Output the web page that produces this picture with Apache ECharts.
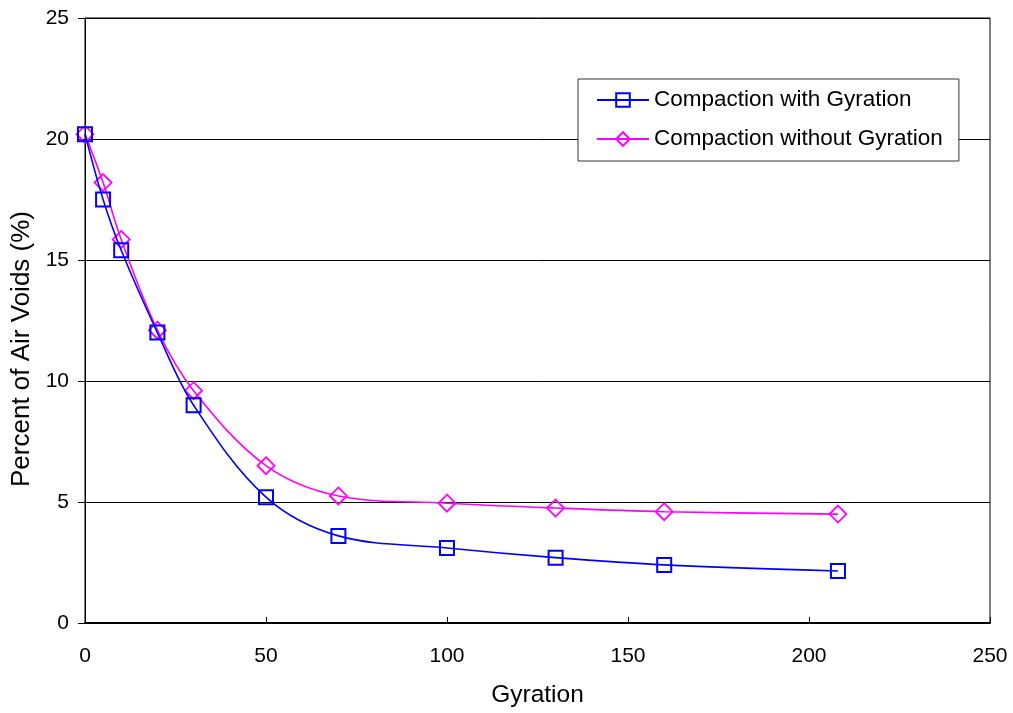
<!DOCTYPE html>
<html>
<head>
<meta charset="utf-8">
<script src="https://cdn.jsdelivr.net/npm/echarts@6/dist/echarts.min.js"></script>
<style>
  html, body { margin: 0; padding: 0; background: #fff; }
  #chart { width: 1013px; height: 713px; }
</style>
</head>
<body>
<div id="chart"></div>
<script>
// Gyration counts at which air voids were measured
const gyrations = [0, 5, 10, 20, 30, 50, 70, 100, 130, 160, 208];
// Percent of air voids, compaction with gyration
const withGyration = [20.2, 17.5, 15.4, 12.0, 9.0, 5.2, 3.6, 3.1, 2.7, 2.4, 2.15];
// Percent of air voids, compaction without gyration
const withoutGyration = [20.2, 18.2, 15.85, 12.1, 9.6, 6.5, 5.25, 4.95, 4.75, 4.6, 4.5];

const seriesNames = ['Compaction with Gyration', 'Compaction without Gyration'];
const xTicks = [0, 50, 100, 150, 200, 250];
const yTicks = [0, 5, 10, 15, 20, 25];

const pairs = (ys) => gyrations.map((g, i) => [g, ys[i]]);
const FONT = '"Liberation Sans", Arial, sans-serif';

const chart = echarts.init(document.getElementById('chart'), null, { renderer: 'canvas' });
chart.setOption({
  animation: false,
  backgroundColor: '#fff',
  textStyle: { fontFamily: FONT },
  grid: {
    left: 85, right: 23, top: 18, bottom: 88,
    show: true, borderColor: '#000', borderWidth: 1, backgroundColor: 'transparent'
  },
  // vertical axis title, sitting a little below the plot's middle
  graphic: [{
    type: 'text',
    x: 22, y: 349,
    rotation: Math.PI / 2,
    style: {
      text: 'Percent of Air Voids (%)',
      font: '26px "Liberation Sans", Arial, sans-serif',
      fill: '#000',
      align: 'center',
      verticalAlign: 'middle'
    }
  }],
  legend: {
    orient: 'vertical',
    left: 578, top: 79,
    backgroundColor: '#fff',
    borderColor: '#333', borderWidth: 1,
    padding: [9, 16, 10, 18],
    itemWidth: 52, itemHeight: 17, itemGap: 15,
    textStyle: { fontFamily: FONT, fontSize: 22.5, lineHeight: 24, color: '#000' },
    data: seriesNames
  },
  xAxis: {
    type: 'value',
    min: xTicks[0], max: xTicks[xTicks.length - 1], interval: 50,
    name: 'Gyration', nameLocation: 'middle', nameGap: 60,
    nameTextStyle: { fontFamily: FONT, fontSize: 24.5, color: '#000' },
    axisLine: { lineStyle: { color: '#000', width: 2 } },
    axisTick: { inside: true, length: 6, lineStyle: { color: '#000' } },
    axisLabel: { fontFamily: FONT, fontSize: 21, color: '#000', margin: 23 },
    splitLine: { show: false }
  },
  yAxis: {
    type: 'value',
    min: yTicks[0], max: yTicks[yTicks.length - 1], interval: 5,
    axisLine: { show: true, lineStyle: { color: '#000', width: 1 } },
    axisTick: { show: true, length: 7, lineStyle: { color: '#000' } },
    axisLabel: { fontFamily: FONT, fontSize: 21, color: '#000', margin: 16 },
    splitLine: { show: true, lineStyle: { color: '#000', width: 1 } }
  },
  series: [
    {
      name: seriesNames[0], type: 'line', data: pairs(withGyration),
      smooth: 0.35,
      symbol: 'rect', symbolSize: 14,
      itemStyle: { color: 'rgba(255,255,255,0)', borderColor: '#0000FF', borderWidth: 2 },
      lineStyle: { color: '#0000FF', width: 1.6 },
      z: 3
    },
    {
      name: seriesNames[1], type: 'line', data: pairs(withoutGyration),
      smooth: 0.35,
      symbol: 'diamond', symbolSize: [17, 17],
      itemStyle: { color: 'rgba(255,255,255,0)', borderColor: '#FF00FF', borderWidth: 1.8 },
      lineStyle: { color: '#FF00FF', width: 1.6 },
      z: 2
    }
  ]
});
</script>
</body>
</html>
